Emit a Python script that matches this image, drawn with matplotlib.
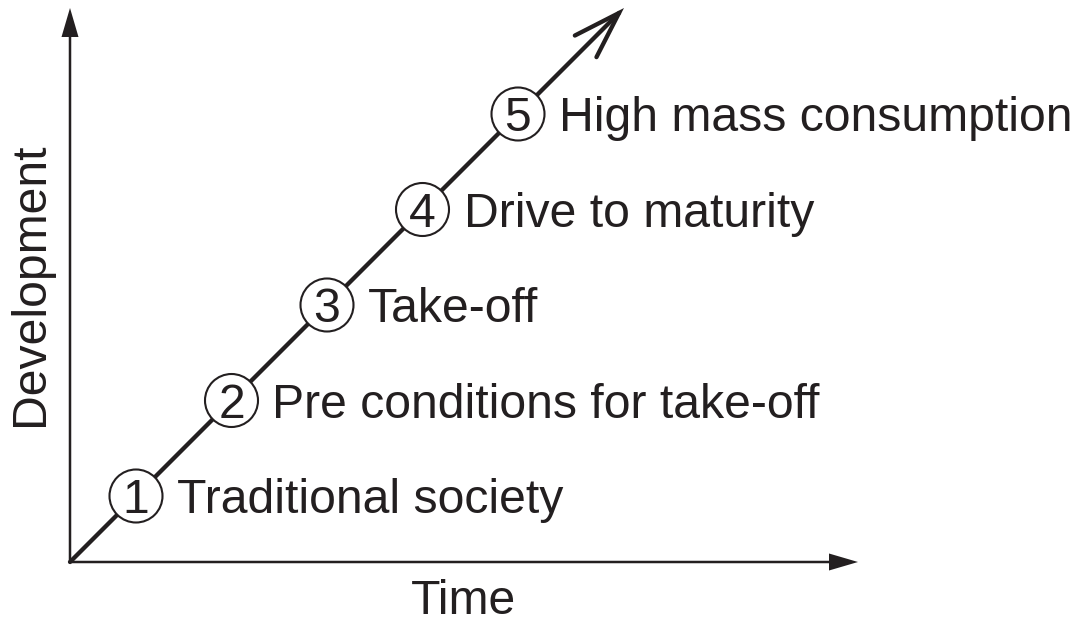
import matplotlib
matplotlib.use("Agg")
import matplotlib.pyplot as plt
from matplotlib.patches import Circle, FancyArrowPatch

plt.rcParams['font.family'] = ['Liberation Sans', 'DejaVu Sans']

# Rostow's stages of growth
stages = [1, 2, 3, 4, 5]
stage_labels = [
    "Traditional society",
    "Pre conditions for take-off",
    "Take-off",
    "Drive to maturity",
    "High mass consumption",
]
x_title = "Time"
y_title = "Development"

ink = '#231f20'
fs = 34.7
cap_half = 0.716 * fs * 100 / 72 / 2   # half cap height in px (= data units)

fig = plt.figure(figsize=(10.79, 6.36), dpi=100)
ax = fig.add_axes([0, 0, 1, 1])
ax.set_xlim(-70, 1009)
ax.set_ylim(-74, 562)
ax.axis('off')

# axes with filled arrow heads
ax.arrow(0, 0, 0, 554, width=2.5, head_width=17, head_length=29,
         length_includes_head=True, fc=ink, ec='none')
ax.arrow(0, 0, 788, 0, width=2.5, head_width=17, head_length=29,
         length_includes_head=True, fc=ink, ec='none')

# diagonal growth arrow
diag = FancyArrowPatch((0, 0), (554, 554),
                       arrowstyle='->,head_length=34,head_width=11',
                       mutation_scale=1, lw=3.1, color=ink,
                       shrinkA=0, shrinkB=0, joinstyle='miter', zorder=2)
ax.add_patch(diag)

# stage markers + labels
for n, lab in zip(stages, stage_labels):
    p = 66 + (n - 1) * 95.5
    ax.add_patch(Circle((p, p), 26.5, fc='white', ec=ink, lw=1.5, zorder=3))
    ax.text(p, p - cap_half, str(n), ha='center', va='baseline',
            fontsize=fs, color=ink, zorder=4)
    ax.text(p + 41, p - cap_half, lab, ha='left', va='baseline',
            fontsize=fs, color=ink, zorder=4)

ax.text(394, -52, x_title, ha='center', va='baseline', fontsize=fs, color=ink)
ax.text(-27, 278, y_title, ha='center', va='baseline', rotation=90,
        rotation_mode='anchor', fontsize=fs, color=ink)

fig.savefig('out.png', dpi=100)
